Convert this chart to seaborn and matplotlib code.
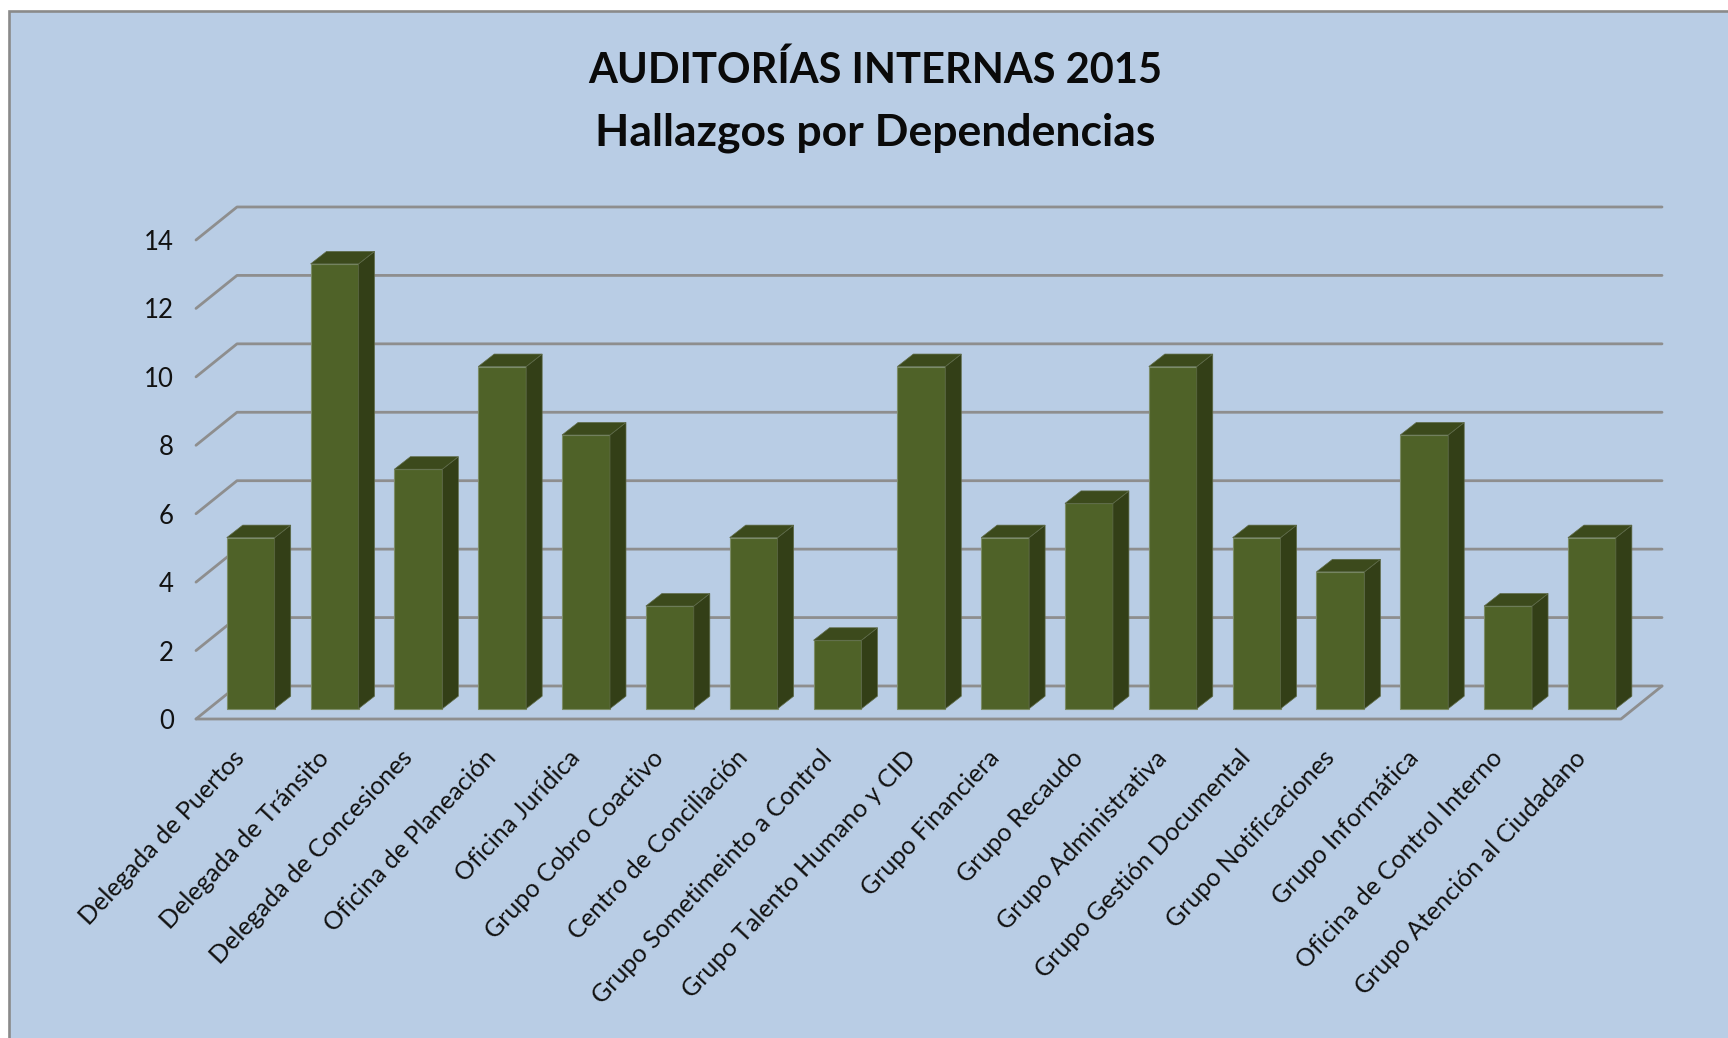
import matplotlib
matplotlib.use("Agg")
import matplotlib.pyplot as plt
from matplotlib.patches import Polygon, Rectangle
from matplotlib.transforms import Affine2D, ScaledTranslation
import seaborn as sns
import pandas as pd

dependencias = ["Delegada de Puertos", "Delegada de Tránsito", "Delegada de Concesiones",
                "Oficina de Planeación", "Oficina Jurídica", "Grupo Cobro Coactivo",
                "Centro de Conciliación", "Grupo Sometimeinto a Control",
                "Grupo Talento Humano y CID", "Grupo Financiera", "Grupo Recaudo",
                "Grupo Administrativa", "Grupo Gestión Documental", "Grupo Notificaciones",
                "Grupo Informática", "Oficina de Control Interno", "Grupo Atención al Ciudadano"]
hallazgos = [5, 13, 7, 10, 8, 3, 5, 2, 10, 5, 6, 10, 5, 4, 8, 3, 5]
y_ticks = [0, 2, 4, 6, 8, 10, 12, 14]

W, H = 1728, 1038
PANEL, FRONT, SIDE, TOP, GRID = "#B9CDE5", "#4F6228", "#333F17", "#3C4A1C", "#8E8E8E"

sns.set_theme(style="white")
plt.rcParams["font.family"] = ["Lato", "DejaVu Sans"]

fig = plt.figure(figsize=(W / 100, H / 100), dpi=100, facecolor="white")
fig.add_artist(Rectangle((9 / W, 0 - 0.02), 1.02, (H - 11) / H + 0.02, transform=fig.transFigure,
                         facecolor=PANEL, edgecolor="#8A8A8A", linewidth=1.9, zorder=-5))

ax = fig.add_axes([196 / W, (H - 719) / H, 1425 / W, 479 / H], zorder=2)
ax.patch.set_alpha(0)
df = pd.DataFrame({"dep": dependencias, "n": hallazgos})
sns.barplot(data=df, x="dep", y="n", color=FRONT, saturation=1, width=0.572, ax=ax, zorder=3)
ax.set_xlim(-0.5, len(dependencias) - 0.5)
ax.set_ylim(0, 14)
ax.set_xlabel("")
ax.set_ylabel("")

# depth of the 3-D box expressed in data units
wall_dx, wall_dy = 41 / 83.8, 33 / 34.2
bar_ox, bar_oy = 12.8 / 83.8, 10.3 / 34.2
bar_dx, bar_dy = 16 / 83.8, 12.5 / 34.2

x0, x1 = ax.get_xlim()
grid_kw = dict(color=GRID, lw=2.0, clip_on=False, zorder=1, solid_capstyle="round")
for v in y_ticks:
    ax.plot([x0, x0 + wall_dx, x1 + wall_dx], [v, v + wall_dy, v + wall_dy], **grid_kw)
ax.plot([x0, x1, x1 + wall_dx], [0, 0, wall_dy], **grid_kw)

shift = Affine2D().translate(bar_ox, bar_oy) + ax.transData
for p in list(ax.patches):
    xa, w, h = p.get_x(), p.get_width(), p.get_height()
    p.set_transform(shift)
    p.set_clip_on(False)
    p.set_edgecolor("#7C8C68")
    p.set_linewidth(0.8)
    xb = xa + w
    ax.add_patch(Polygon([(xb, 0), (xb + bar_dx, bar_dy), (xb + bar_dx, h + bar_dy), (xb, h)],
                         closed=True, facecolor=SIDE, edgecolor="#5E6A48", lw=0.5,
                         transform=shift, clip_on=False, zorder=3))
    ax.add_patch(Polygon([(xa, h), (xb, h), (xb + bar_dx, h + bar_dy), (xa + bar_dx, h + bar_dy)],
                         closed=True, facecolor=TOP, edgecolor="#5E6A48", lw=0.5,
                         transform=shift, clip_on=False, zorder=3))

for s in ax.spines.values():
    s.set_visible(False)
ax.set_yticks(y_ticks)
ax.tick_params(axis="y", length=0, pad=16, labelsize=18.5, labelcolor="#111111")
ax.tick_params(axis="x", length=0, pad=0, labelsize=18.1, labelcolor="#111111")
ax.set_xticks(range(len(dependencias)))
ax.set_xticklabels(dependencias, rotation=46.8, ha="right", va="center", rotation_mode="anchor")
off = ScaledTranslation(3 / 100, -35 / 100, fig.dpi_scale_trans)
for lab in ax.get_xticklabels():
    lab.set_transform(lab.get_transform() + off)

fig.text(875 / W, 1 - 70 / H, "AUDITORÍAS INTERNAS 2015", ha="center", va="center",
         fontsize=30, fontweight="bold", color="#0A0A0A")
fig.text(875 / W, 1 - 133 / H, "Hallazgos por Dependencias", ha="center", va="center",
         fontsize=32, fontweight="bold", color="#0A0A0A")

fig.savefig("out.png", dpi=100, facecolor="white")
